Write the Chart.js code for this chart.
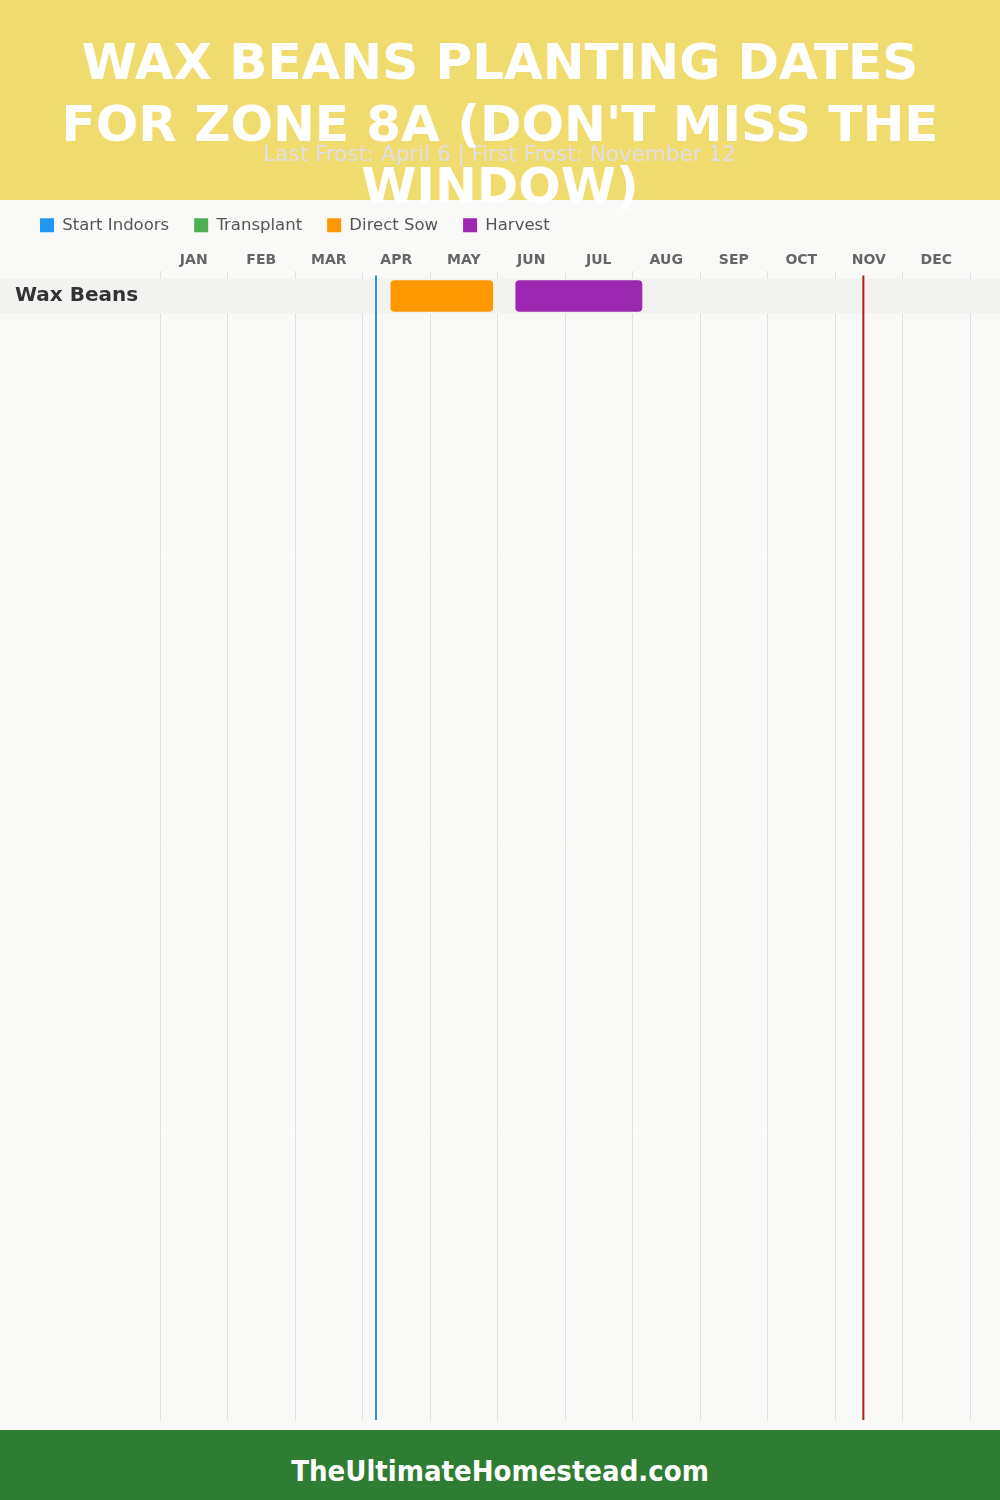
<!DOCTYPE html>
<html>
<head>
<meta charset="utf-8">
<script src="https://cdn.jsdelivr.net/npm/chart.js@4.4.0/dist/chart.umd.min.js"></script>
<style>
html, body { margin: 0; padding: 0; }
body { width: 1000px; height: 1500px; background: #f9f9f8; position: relative; overflow: hidden; }
#header { position: absolute; left: 0; top: 0; width: 1000px; height: 200px; background: #f0db6e; }
#title { position: absolute; left: 0; top: 31px; width: 920px; padding: 0 40px; margin: 0; text-align: center;
  color: #fff; font: bold 50px/62px "DejaVu Sans", sans-serif; z-index: 3; }
#sub { position: absolute; left: 0; top: 140px; width: 1000px; text-align: center; color: #dfdfdf;
  font: normal 21.5px/28px "DejaVu Sans", sans-serif; z-index: 2; }
#wrap { position: absolute; left: 0; top: 170px; width: 1000px; height: 1265px; z-index: 1; }
#footer { position: absolute; left: 0; top: 1430px; width: 1000px; height: 64px; padding-top: 6px; overflow: hidden;
  background: #2e7d32; color: #fff; text-align: center; z-index: 2;
  font: bold 29px/70px "DejaVu Sans Condensed", "DejaVu Sans", sans-serif; }
</style>
</head>
<body>
<div id="header"></div>
<h1 id="title">WAX BEANS PLANTING DATES FOR ZONE 8A (DON'T MISS THE WINDOW)</h1>
<div id="sub">Last Frost: April 6 | First Frost: November 12</div>
<div id="wrap"><canvas id="chart" width="1000" height="1265"></canvas></div>
<div id="footer">TheUltimateHomestead.com</div>

<script>
// values in months from Jan 1 (0 = Jan 1, 12 = Dec 31)
var months = ['JAN', 'FEB', 'MAR', 'APR', 'MAY', 'JUN', 'JUL', 'AUG', 'SEP', 'OCT', 'NOV', 'DEC'];
var crops = ['Wax Beans'];
var startIndoors = [];
var transplant = [];
var directSow = [[3.42, 4.93]];
var harvest = [[5.27, 7.14]];
var lastFrost = 3.2;    // April 6
var firstFrost = 10.42; // November 12

var FONT = '"DejaVu Sans", sans-serif';

function toPoints(ranges) {
    var pts = [];
    for (var i = 0; i < ranges.length; i++) {
        pts.push({x: ranges[i], y: i});
    }
    return pts;
}

// grey band behind each crop row
var rowBand = {
    id: 'rowBand',
    beforeDatasetsDraw: function (chart) {
        var ctx = chart.ctx;
        var y = chart.scales.y;
        ctx.save();
        ctx.fillStyle = '#f2f2f1';
        for (var i = 0; i < crops.length; i++) {
            var py = y.getPixelForValue(i);
            ctx.fillRect(0, py - 17.5, chart.width, 35);
        }
        ctx.restore();
    }
};

// last / first frost lines
var frostLines = {
    id: 'frostLines',
    afterDatasetsDraw: function (chart) {
        var ctx = chart.ctx;
        var x = chart.scales.x;
        var area = chart.chartArea;
        var lines = [[lastFrost, '#2196f3'], [firstFrost, '#b71c1c']];
        ctx.save();
        ctx.lineWidth = 2;
        for (var i = 0; i < lines.length; i++) {
            var px = x.getPixelForValue(lines[i][0]);
            ctx.strokeStyle = lines[i][1];
            ctx.beginPath();
            ctx.moveTo(px, area.top + 5);
            ctx.lineTo(px, area.bottom);
            ctx.stroke();
        }
        ctx.restore();
    }
};

var ctx = document.getElementById('chart');
var myChart = new Chart(ctx, {
    type: 'bar',
    data: {
        datasets: [
            {label: 'Start Indoors', data: toPoints(startIndoors), backgroundColor: '#2196f3'},
            {label: 'Transplant', data: toPoints(transplant), backgroundColor: '#4caf50'},
            {label: 'Direct Sow', data: toPoints(directSow), backgroundColor: '#ff9800'},
            {label: 'Harvest', data: toPoints(harvest), backgroundColor: '#9c27b0'}
        ]
    },
    options: {
        indexAxis: 'y',
        responsive: false,
        animation: false,
        devicePixelRatio: 1,
        layout: {padding: {left: 15, right: 30, top: 22, bottom: 5}},
        datasets: {
            bar: {
                grouped: false,
                barThickness: 31,
                borderRadius: 4,
                borderSkipped: false,
                borderWidth: 0
            }
        },
        scales: {
            x: {
                type: 'linear',
                min: 0,
                max: 12,
                display: false
            },
            months: {
                type: 'category',
                axis: 'x',
                position: 'top',
                labels: months,
                offset: true,
                grid: {offset: true, color: '#e0e0e0', lineWidth: 1, drawTicks: false},
                border: {display: false},
                ticks: {color: '#666', padding: 2, font: {family: FONT, size: 14, weight: 'bold'}},
                afterFit: function (scale) { scale.height = 27; }
            },
            y: {
                type: 'linear',
                reverse: true,
                offset: false,
                min: -0.73,
                max: 32.13,
                grid: {display: false, offset: false},
                border: {display: false},
                afterBuildTicks: function (scale) {
                    scale.ticks = crops.map(function (c, i) { return {value: i}; });
                },
                ticks: {
                    z: 1,
                    crossAlign: 'far',
                    color: '#333',
                    font: {family: FONT, size: 20, weight: 'bold'},
                    callback: function (v) { return crops[v]; }
                },
                afterFit: function (scale) { scale.width = 145; }
            }
        },
        plugins: {
            legend: {
                position: 'top',
                align: 'start',
                labels: {
                    boxWidth: 14,
                    boxHeight: 14,
                    padding: 25,
                    color: '#555',
                    font: {family: FONT, size: 16.5}
                }
            },
            tooltip: {enabled: false}
        }
    },
    plugins: [rowBand, frostLines]
});
</script>
</body>
</html>
